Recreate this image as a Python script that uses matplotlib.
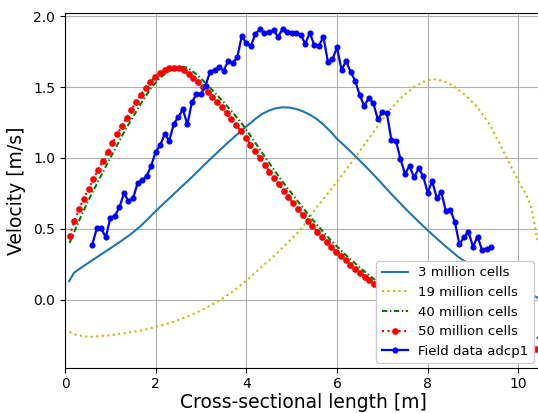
import matplotlib
matplotlib.use("Agg")
import matplotlib.pyplot as plt

# 3 million cells
x_3m = [0.09, 0.2, 0.4, 0.6, 0.8, 1.0, 1.2, 1.4, 1.6, 1.8, 2.0, 2.4, 2.8, 3.2, 3.6, 3.9,
        4.2, 4.35, 4.5, 4.65, 4.8, 4.95, 5.1, 5.25, 5.4, 5.55, 5.7, 5.85, 6.0, 6.3, 6.6,
        6.9, 7.2, 7.5, 7.8, 8.1, 8.4, 8.7, 9.0, 9.3, 9.6, 9.9, 10.2, 10.45]
y_3m = [0.13, 0.19, 0.235, 0.278, 0.32, 0.362, 0.405, 0.45, 0.50, 0.56, 0.625, 0.745,
        0.865, 0.99, 1.11, 1.195, 1.275, 1.31, 1.334, 1.35, 1.357, 1.355, 1.345, 1.328,
        1.305, 1.275, 1.235, 1.188, 1.135, 1.045, 0.95, 0.85, 0.745, 0.645, 0.55, 0.46,
        0.375, 0.295, 0.235, 0.185, 0.14, 0.095, 0.05, 0.01]

# 19 million cells
x_19m = [0.1, 0.26, 0.55, 1.0, 1.36, 1.73, 2.0, 2.32, 2.69, 3.05, 3.42, 3.72, 3.97, 4.3,
         4.67, 5.04, 5.19, 5.56, 6.0, 6.44, 6.81, 7.1, 7.4, 7.69, 7.91, 8.13, 8.35, 8.57,
         8.83, 9.09, 9.38, 9.75, 10.04, 10.15, 10.23, 10.30, 10.34, 10.38, 10.42]
y_19m = [-0.227, -0.251, -0.263, -0.251, -0.234, -0.215, -0.192, -0.164, -0.121, -0.069,
         -0.004, 0.062, 0.126, 0.22, 0.326, 0.443, 0.49, 0.655, 0.83, 1.02, 1.184, 1.314,
         1.42, 1.498, 1.537, 1.556, 1.542, 1.507, 1.443, 1.361, 1.231, 0.996, 0.81, 0.755,
         0.70, 0.632, 0.565, 0.49, 0.42]

# 40 million cells
x_40m = [0.1, 0.3, 0.5, 0.7, 0.9, 1.1, 1.3, 1.5, 1.7, 1.9, 2.1, 2.3, 2.5, 2.6, 2.7, 2.9,
         3.1, 3.3, 3.5, 3.7, 3.9, 4.1, 4.3, 4.5, 4.7, 4.9, 5.1, 5.3, 5.5, 5.7, 5.9, 6.1,
         6.3, 6.5, 6.7, 6.9, 7.2, 7.6, 8.0, 8.4, 8.8, 9.2, 9.6, 10.0, 10.5]
y_40m = [0.40, 0.55, 0.69, 0.815, 0.94, 1.06, 1.18, 1.29, 1.396, 1.494, 1.567, 1.614,
         1.638, 1.643, 1.637, 1.59, 1.528, 1.462, 1.393, 1.32, 1.242, 1.153, 1.058, 0.966,
         0.876, 0.79, 0.709, 0.627, 0.55, 0.476, 0.407, 0.343, 0.284, 0.228, 0.174, 0.125,
         0.065, -0.005, -0.06, -0.105, -0.145, -0.18, -0.21, -0.237, -0.275]

# 50 million cells
x_50m = [0.10, 0.205, 0.31, 0.415, 0.52, 0.625, 0.73, 0.835, 0.94, 1.045, 1.15, 1.255,
         1.36, 1.465, 1.57, 1.675, 1.78, 1.885, 1.99, 2.095, 2.20, 2.305, 2.41, 2.515,
         2.62, 2.725, 2.83, 2.935, 3.04, 3.145, 3.25, 3.355, 3.46, 3.565, 3.67, 3.775,
         3.88, 3.985, 4.09, 4.195, 4.30, 4.405, 4.51, 4.615, 4.72, 4.825, 4.93, 5.035,
         5.14, 5.245, 5.35, 5.455, 5.56, 5.665, 5.77, 5.875, 5.98, 6.085, 6.19, 6.295,
         6.40, 6.505, 6.61, 6.715, 6.82, 6.925, 7.03, 7.135, 7.24, 7.345, 7.45, 7.555,
         7.66, 7.765, 7.87, 7.975, 8.08, 8.185, 8.29, 8.395, 8.50, 8.605, 8.71, 8.815,
         8.92, 9.025, 9.13, 9.235, 9.34, 9.445, 9.55, 9.655, 9.76, 9.865, 9.97, 10.075,
         10.18, 10.285, 10.39, 10.495]
y_50m = [0.45, 0.552, 0.64, 0.712, 0.782, 0.85, 0.914, 0.978, 1.042, 1.105, 1.166, 1.225,
         1.284, 1.34, 1.395, 1.447, 1.494, 1.535, 1.57, 1.598, 1.618, 1.631, 1.637, 1.633,
         1.617, 1.592, 1.563, 1.532, 1.50, 1.466, 1.431, 1.395, 1.357, 1.318, 1.277, 1.234,
         1.19, 1.143, 1.094, 1.046, 0.998, 0.951, 0.904, 0.858, 0.813, 0.768, 0.724, 0.681,
         0.638, 0.597, 0.557, 0.518, 0.479, 0.442, 0.406, 0.372, 0.339, 0.307, 0.277, 0.247,
         0.218, 0.19, 0.163, 0.137, 0.112, 0.088, 0.066, 0.044, 0.024, 0.004, -0.015, -0.033,
         -0.05, -0.067, -0.083, -0.098, -0.113, -0.127, -0.141, -0.154, -0.167, -0.179,
         -0.191, -0.202, -0.213, -0.224, -0.234, -0.244, -0.254, -0.264, -0.273, -0.282,
         -0.291, -0.30, -0.309, -0.318, -0.327, -0.336, -0.345, -0.354]

# field data adcp1
x_adcp = [0.6, 0.7, 0.8, 0.9, 1.0, 1.1, 1.2, 1.3, 1.4, 1.5, 1.6, 1.7, 1.8, 1.9, 2.0,
          2.1, 2.2, 2.3, 2.4, 2.5, 2.6, 2.7, 2.8, 2.9, 3.0, 3.1, 3.2, 3.3, 3.4, 3.5,
          3.6, 3.7, 3.8, 3.9, 4.0, 4.1, 4.2, 4.3, 4.4, 4.5, 4.6, 4.7, 4.8, 4.9, 5.0,
          5.1, 5.2, 5.3, 5.4, 5.5, 5.6, 5.7, 5.8, 5.9, 6.0, 6.1, 6.2, 6.3, 6.4, 6.5,
          6.6, 6.7, 6.8, 6.9, 7.0, 7.1, 7.2, 7.3, 7.4, 7.5, 7.6, 7.7, 7.8, 7.9, 8.0,
          8.1, 8.2, 8.3, 8.4, 8.5, 8.6, 8.7, 8.8, 8.9, 9.0, 9.1, 9.2, 9.3, 9.4]
y_adcp = [0.385, 0.502, 0.502, 0.439, 0.577, 0.591, 0.651, 0.749, 0.697, 0.714, 0.820,
          0.843, 0.872, 0.942, 1.043, 1.090, 1.168, 1.121, 1.239, 1.290, 1.342, 1.236,
          1.394, 1.450, 1.450, 1.510, 1.608, 1.620, 1.639, 1.616, 1.683, 1.669, 1.709,
          1.860, 1.808, 1.789, 1.874, 1.907, 1.879, 1.890, 1.900, 1.854, 1.910, 1.890,
          1.884, 1.883, 1.867, 1.806, 1.881, 1.796, 1.789, 1.855, 1.678, 1.695, 1.780,
          1.620, 1.683, 1.608, 1.544, 1.443, 1.368, 1.420, 1.389, 1.272, 1.321, 1.314,
          1.126, 1.121, 0.992, 0.886, 0.944, 0.862, 0.926, 0.872, 0.755, 0.836, 0.718,
          0.757, 0.628, 0.632, 0.549, 0.390, 0.441, 0.478, 0.373, 0.445, 0.349, 0.359,
          0.368]

fig = plt.figure(figsize=(5.38, 4.13), dpi=100)
ax = fig.add_axes([65 / 538, 45.3 / 413, 476 / 538, 354.4 / 413])

ax.plot(x_3m, y_3m, color="#1f77b4", lw=1.5, label="3 million cells")
ax.plot(x_19m, y_19m, "y:", lw=1.5, label="19 million cells")
ax.plot(x_40m, y_40m, "g-.", lw=1.5, dashes=(2.6, 1.2, 0.7, 1.2), label="40 million cells")
ax.plot(x_50m, y_50m, "r:", marker="o", ms=3.8, lw=1.5, label="50 million cells")
ax.plot(x_adcp, y_adcp, "b-", marker="o", ms=3.4, lw=1.6, label="Field data adcp1")

ax.set_xlim(0, 10.5)
ax.set_ylim(-0.48, 2.02)
ax.set_xticks([0, 2, 4, 6, 8, 10])
ax.set_yticks([0.0, 0.5, 1.0, 1.5, 2.0])
ax.tick_params(labelsize=10)
ax.grid(True)
ax.set_xlabel("Cross-sectional length [m]", fontsize=13.5, labelpad=1)
ax.set_ylabel("Velocity [m/s]", fontsize=13.5, labelpad=5)

leg = ax.legend(loc="lower right", fontsize=9.5, borderaxespad=0, framealpha=1,
                bbox_to_anchor=(534 / 538, 50 / 413), bbox_transform=fig.transFigure)

fig.savefig("out.png", dpi=100)
